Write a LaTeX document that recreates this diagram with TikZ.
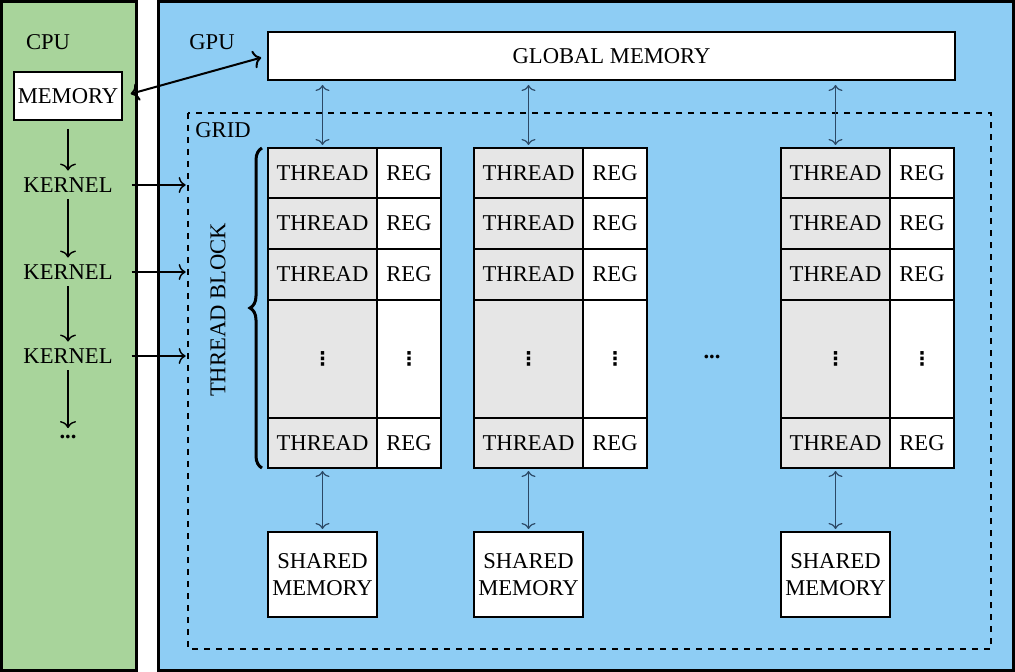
\documentclass[tikz,border=0pt]{standalone}
\usepackage{fontspec}
\setmainfont{Liberation Serif}
\newfontfamily\dotsfont{DejaVu Sans}
\usepackage{tikz}
\usetikzlibrary{arrows.meta}
\usetikzlibrary{decorations.pathreplacing}
\definecolor{cpugreen}{HTML}{A8D49B}
\definecolor{gpublue}{HTML}{8ECDF4}
\definecolor{cellgray}{HTML}{E6E6E6}
\definecolor{linkslate}{HTML}{2B4865}
\newcommand{\celldots}{{\dotsfont\bfseries\fontsize{9.5}{9.5}\selectfont ⋮}}
\tikzstyle{membox} = [draw, fill=white, line width=1pt, inner sep=0pt]
\tikzstyle{thrcell} = [draw, fill=cellgray, line width=1pt, inner sep=0pt, minimum width=54.5pt]
\tikzstyle{regcell} = [draw, fill=white, line width=1pt, inner sep=0pt, minimum width=32pt]
\tikzstyle{link} = [draw=linkslate, {To[length=3pt,width=7pt]}-{To[length=3pt,width=7pt]}, line width=0.6pt]
\tikzstyle{flow} = [draw, -{To[length=3.5pt,width=8pt]}, line width=0.7pt]

\begin{document}
\begin{tikzpicture}[x=0.5pt,y=-0.5pt]
	\tikzstyle{every node}=[font=\fontsize{11.3}{13.5}\selectfont]
	\useasboundingbox (0,0) rectangle (1015,672);

	% ------------------- Host and device ------------------- %
	\draw[fill=cpugreen, line width=1.5pt] (1.5,1.5) rectangle (136.5,670.5);
	\draw[fill=gpublue, line width=1.5pt] (158.5,1.5) rectangle (1013.5,670.5);
	\node (cpu) at (48,42) {CPU};
	\node (gpu) at (212,42) {GPU};

	\node[membox, minimum width=54pt, minimum height=24pt] (cpumem) at (68,96) {MEMORY};
	\node[membox, minimum width=343.5pt, minimum height=24pt] (gmem) at (611.5,56) {GLOBAL MEMORY};
	\draw[{To[length=4pt,width=9pt]}-{To[length=4pt,width=9pt]}, line width=1pt, shorten <=4pt, shorten >=3pt] (cpumem.east) -- (gmem.west);

	% ------------------- Grid ------------------- %
	\draw[dashed, line width=1pt] (188,113) rectangle (991,649);
	\node (grid) at (223,130) {GRID};

	% ------------------- Kernels ------------------- %
	\node (k1) at (68,185) {KERNEL};
	\node (k2) at (68,272) {KERNEL};
	\node (k3) at (68,356) {KERNEL};
	\node (kdots) at (68,437) {\textbf{...}};
	\draw[flow] (cpumem.south) ++(0,-4pt) -- (k1.north);
	\draw[flow] (k1) -- (k2);
	\draw[flow] (k2) -- (k3);
	\draw[flow] (k3) -- (kdots);
	\foreach \k in {1,2,3}
		\draw[flow] (k\k.east) ++(6pt,0) -- ++(27pt,0);

	% ------------------- Thread blocks ------------------- %
	\foreach \b/\x in {1/268, 2/474, 3/781} {
		\foreach \r/\y/\h/\txt/\reg in {1/173/25/THREAD/REG, 2/223.5/25.5/THREAD/REG, 3/274.5/25.5/THREAD/REG, 4/359/59/\celldots/\celldots, 5/443/25/THREAD/REG} {
			\node[thrcell, minimum height=\h pt] (thr\b-\r) at (\x+54.5,\y) {\txt};
			\node[regcell, minimum height=\h pt] (reg\b-\r) at (\x+141,\y) {\reg};
		}
		\node[membox, minimum width=54.5pt, minimum height=42.5pt, align=center] (smem\b) at (\x+54.5,574.5) {SHARED\\MEMORY};
		\draw[link] (gmem.south -| thr\b-1.north) ++(0,-2pt) -- ([yshift=1pt]thr\b-1.north);
		\draw[link] ([yshift=-1pt]thr\b-5.south) -- ([yshift=1pt]smem\b.north);
	}
	\node (bdots) at (712,357) {\textbf{...}};

	% ------------------- Brace ------------------- %
	\draw[decorate, decoration={brace, amplitude=6pt}, line width=1.5pt] (262,468) -- (262,148);
	\node[rotate=90] (blocklabel) at (218,310) {THREAD BLOCK};
\end{tikzpicture}
\end{document}
